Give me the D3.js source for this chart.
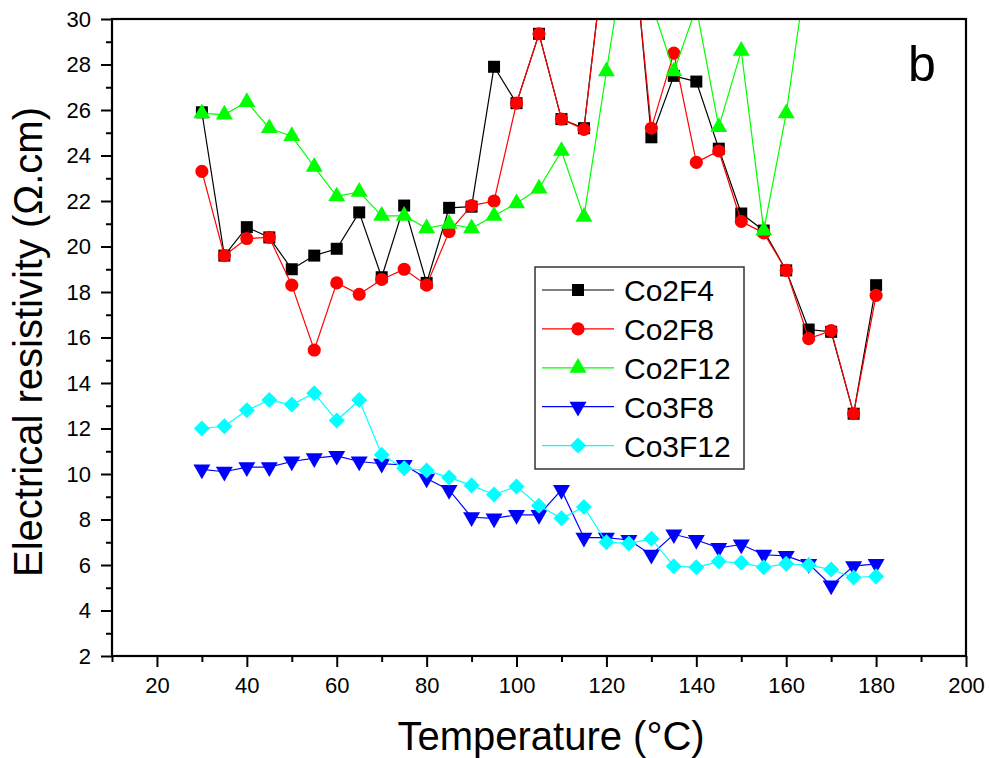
<!DOCTYPE html>
<html><head><meta charset="utf-8">
<script src="https://cdn.jsdelivr.net/npm/d3@7"></script>
<style>
html,body{margin:0;padding:0;background:#fff;}
svg{display:block;font-family:"Liberation Sans",Arial,sans-serif;}
</style></head>
<body>
<svg id="chart" width="989" height="758"></svg>
<script>
const temperature = [30,35,40,45,50,55,60,65,70,75,80,85,90,95,100,105,110,115,120,125,130,135,140,145,150,155,160,165,170,175,180];
const co2f4  = [25.9,19.6,20.85,20.4,19.0,19.6,19.9,21.5,18.65,21.8,18.4,21.7,21.75,27.9,26.3,29.35,25.6,25.2,33.6,35.5,24.8,27.5,27.25,24.3,21.45,20.7,18.95,16.35,16.25,12.65,18.3];
const co2f8  = [23.3,19.6,20.35,20.4,18.3,15.45,18.4,17.9,18.55,19.0,18.3,20.65,21.8,22.0,26.3,29.35,25.6,25.15,33.6,35.2,25.2,28.5,23.7,24.2,21.1,20.6,18.95,15.95,16.3,12.65,17.85];
const co2f12 = [25.85,25.8,26.35,25.2,24.85,23.5,22.2,22.4,21.35,21.35,20.8,21.0,20.8,21.35,21.9,22.55,24.2,21.3,27.7,34.0,30.7,27.7,30.5,25.25,28.6,20.7,25.85,32.8];
const co3f8  = [10.2,10.1,10.3,10.3,10.55,10.7,10.8,10.55,10.45,10.4,9.8,9.3,8.1,8.05,8.2,8.2,9.3,7.2,7.2,7.1,6.45,7.35,7.1,6.75,6.9,6.45,6.4,6.05,5.1,5.95,6.05];
const co3f12 = [12.0,12.1,12.8,13.25,13.05,13.55,12.35,13.25,10.85,10.25,10.15,9.85,9.5,9.1,9.45,8.6,8.05,8.55,7.0,6.95,7.15,5.95,5.9,6.15,6.1,5.9,6.05,6.0,5.8,5.45,5.5];
const seriesNames = ["Co2F4","Co2F8","Co2F12","Co3F8","Co3F12"];
const xTicks = [20,40,60,80,100,120,140,160,180,200];
const yTicks = [2,4,6,8,10,12,14,16,18,20,22,24,26,28,30];
const xLabel = "Temperature (\u00B0C)";
const yLabel = "Electrical resistivity (\u03A9.cm)";
const panelLabel = "b";

const seriesValues = [co2f4, co2f8, co2f12, co3f8, co3f12];
const colors = ["#000000","#ff0000","#00ff00","#0000ff","#00ffff"];
const shapes = ["square","circle","triangle","down","diamond"];

const svg = d3.select("#chart");
const L = 112, R = 966, T = 19, B = 656;
const x = d3.scaleLinear().domain([10,200]).range([L,R]);
const y = d3.scaleLinear().domain([2,30]).range([B,T]);

svg.append("defs").append("clipPath").attr("id","clip")
  .append("rect").attr("x",L).attr("y",T).attr("width",R-L).attr("height",B-T);

function symbolPath(shape){
  if(shape==="square") return d3.symbol().type(d3.symbolSquare).size(144)();
  if(shape==="circle") return d3.symbol().type(d3.symbolCircle).size(135)();
  if(shape==="triangle" || shape==="down") return d3.symbol().type(d3.symbolTriangle).size(125)();
  if(shape==="diamond") return d3.symbol().type(d3.symbolSquare).size(128)();
}
function symbolTransform(shape, px, py){
  let t = `translate(${px},${py})`;
  if(shape==="down") t += " rotate(180)";
  if(shape==="diamond") t += " rotate(45)";
  return t;
}

const plot = svg.append("g").attr("clip-path","url(#clip)");
seriesValues.forEach((vals,i)=>{
  const pts = vals.map((v,j)=>[temperature[j], v]);
  const g = plot.append("g");
  g.append("path")
    .attr("d", d3.line().x(d=>x(d[0])).y(d=>y(d[1]))(pts))
    .attr("fill","none").attr("stroke",colors[i]).attr("stroke-width",1.2);
  g.selectAll("path.m").data(pts.filter(d=>d[1]<=30)).enter().append("path")
    .attr("class","m")
    .attr("d", symbolPath(shapes[i]))
    .attr("transform", d=>symbolTransform(shapes[i], x(d[0]), y(d[1])))
    .attr("fill", colors[i]);
});

// Axes
const xAxis = svg.append("g").attr("transform",`translate(0,${B})`)
  .call(d3.axisBottom(x).tickValues(xTicks).tickSize(11).tickPadding(10).tickFormat(d3.format("d")));
const xMinor = svg.append("g").attr("transform",`translate(0,${B})`)
  .call(d3.axisBottom(x).tickValues([10,30,50,70,90,110,130,150,170,190]).tickSize(6).tickFormat(""));
const yAxis = svg.append("g").attr("transform",`translate(${L},0)`)
  .call(d3.axisLeft(y).tickValues(yTicks).tickSize(11).tickPadding(10).tickFormat(d3.format("d")));
const yMinor = svg.append("g").attr("transform",`translate(${L},0)`)
  .call(d3.axisLeft(y).tickValues([3,5,7,9,11,13,15,17,19,21,23,25,27,29]).tickSize(6).tickFormat(""));
[xAxis,xMinor,yAxis,yMinor].forEach(a=>{
  a.select(".domain").remove();
  a.selectAll("line").attr("stroke","#000").attr("stroke-width",2);
  a.selectAll("text").attr("font-size",22).attr("fill","#000").attr("font-family","'Liberation Sans',Arial,sans-serif");
});
// frame
svg.append("rect").attr("x",L).attr("y",T).attr("width",R-L).attr("height",B-T)
  .attr("fill","none").attr("stroke","#000").attr("stroke-width",2.2);

// titles
svg.append("text").attr("x",551).attr("y",750).attr("text-anchor","middle")
  .attr("font-size",40).text(xLabel);
svg.append("text").attr("transform","translate(42,342) rotate(-90)").attr("text-anchor","middle")
  .attr("font-size",40).text(yLabel);
svg.append("text").attr("x",908).attr("y",81).attr("font-size",50).text(panelLabel);

// legend
const lg = svg.append("g");
lg.append("rect").attr("x",535).attr("y",267).attr("width",209).attr("height",202)
  .attr("fill","#fff").attr("stroke","#333").attr("stroke-width",1.5);
seriesNames.forEach((n,i)=>{
  const cy = 290 + i*38.9;
  lg.append("line").attr("x1",542).attr("x2",614).attr("y1",cy).attr("y2",cy)
    .attr("stroke",colors[i]).attr("stroke-width",1.2);
  lg.append("path").attr("d",symbolPath(shapes[i])).attr("transform",symbolTransform(shapes[i],578,cy)).attr("fill",colors[i]);
  lg.append("text").attr("x",624).attr("y",cy+11).attr("font-size",30).text(n);
});
</script>
</body></html>
